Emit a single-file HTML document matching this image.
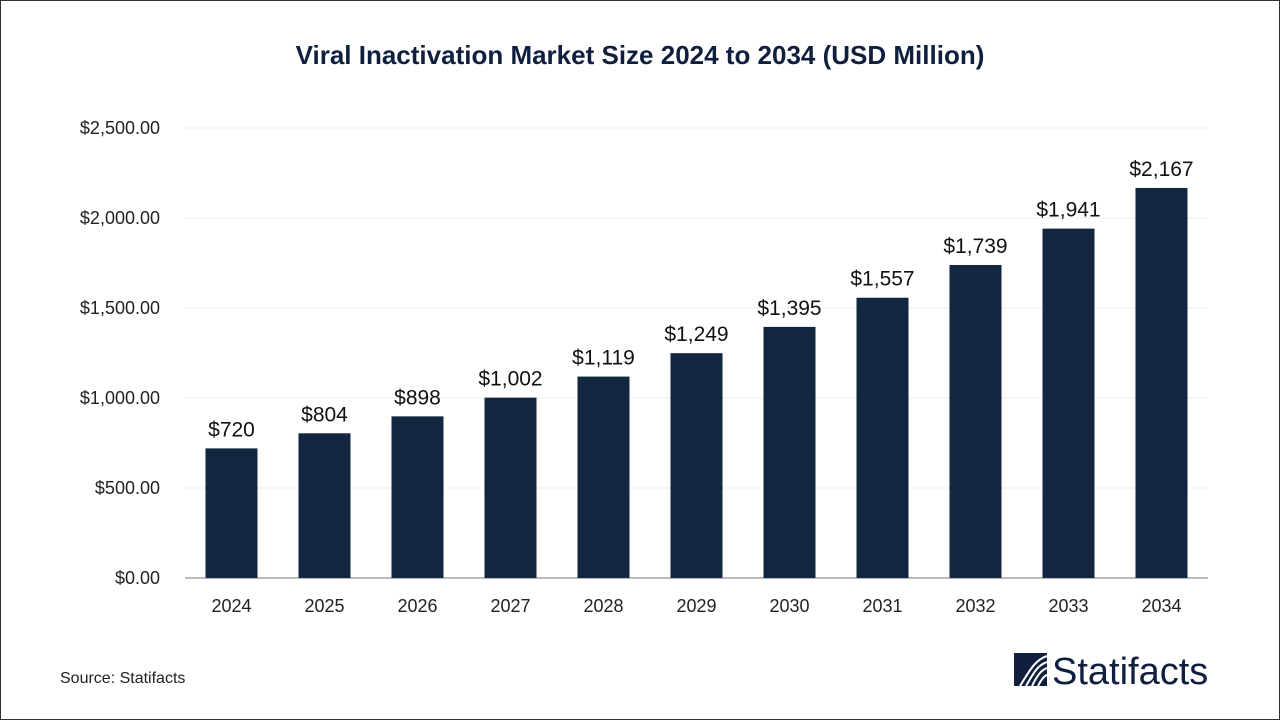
<!DOCTYPE html>
<html><head><meta charset="utf-8"><style>
html,body{margin:0;padding:0;background:#fff}
body{width:1280px;height:720px;overflow:hidden;font-family:"Liberation Sans",sans-serif}
#frame{position:absolute;left:0;top:0;width:1278px;height:718px;border:1px solid #333}
</style></head><body>
<div id="frame"></div>
<svg id="chart" width="1280" height="720" style="position:absolute;left:0;top:0">
<text x="640" y="64" text-anchor="middle" font-size="26" font-weight="bold" fill="#0f1f3d">Viral Inactivation Market Size 2024 to 2034 (USD Million)</text>
<g id="grid"></g><g id="bars"></g>
<text x="60" y="683" font-size="16" fill="#222">Source: Statifacts</text>
<g>
<rect x="1014" y="653" width="33" height="33" fill="#0f1f3d"/>
<path d="M1020 686 C1030 670,1035 660,1047 656 M1026 686 C1034 672,1038 665,1047 662 M1032 686 C1037 676,1041 670,1047 668 M1038 686 C1041 680,1044 676,1047 675" stroke="#fff" stroke-width="2" fill="none"/>
<text x="1052" y="684" font-size="38" fill="#0f1f3d">Statifacts</text>
</g>
</svg>
<script>
const categories=["2024","2025","2026","2027","2028","2029","2030","2031","2032","2033","2034"];
const values=[720,804,898,1002,1119,1249,1395,1557,1739,1941,2167];
const valueLabels=["$720","$804","$898","$1,002","$1,119","$1,249","$1,395","$1,557","$1,739","$1,941","$2,167"];
const ticks=[0,500,1000,1500,2000,2500];
const tickLabels=["$0.00","$500.00","$1,000.00","$1,500.00","$2,000.00","$2,500.00"];
const NS="http://www.w3.org/2000/svg";
const L=185,R=1208,T=128,B=578,MAX=2500;
const y=v=>B-(v/MAX)*(B-T);
const step=(R-L)/categories.length;
const x=i=>L+step*(i+0.5);
function mk(tag,attrs,parent){const e=document.createElementNS(NS,tag);for(const k in attrs)e.setAttribute(k,attrs[k]);parent.appendChild(e);return e;}
const grid=document.getElementById('grid'),bars=document.getElementById('bars');
ticks.forEach((t,i)=>{
 const l=mk('line',{x1:L,x2:R,y1:y(t),y2:y(t),stroke:t===0?'#bbb':'#eee','stroke-width':t===0?2:1},grid);
 
 
 const tx=mk('text',{x:160,y:y(t)+6,'text-anchor':'end','font-size':18,fill:'#222'},grid);
 tx.textContent=tickLabels[i];
 
 
});
categories.forEach((c,i)=>{
 const w=52;
 const r=mk('rect',{x:x(i)-w/2,y:y(values[i]),width:w,height:B-y(values[i]),fill:'#12263f'},bars);
 
 
 const vl=mk('text',{x:x(i),y:y(values[i])-12,'text-anchor':'middle','font-size':21,fill:'#111'},bars);
 vl.textContent=valueLabels[i];
 
 
 const xl=mk('text',{x:x(i),y:612,'text-anchor':'middle','font-size':18,fill:'#222'},bars);
 xl.textContent=c;
 
 
});
</script>
</body></html>
